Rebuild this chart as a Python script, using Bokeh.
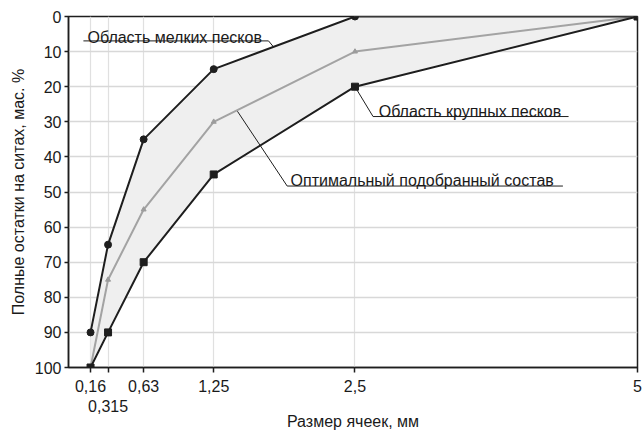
from bokeh.plotting import figure
from bokeh.models import Range1d, FixedTicker, Label
from bokeh.embed import file_html
from bokeh.resources import INLINE

# ---- data ----
sizes = [0.16, 0.315, 0.63, 1.25, 2.5, 5]
fine = [90, 65, 35, 15, 0, 0]          # Область мелких песков
coarse = [100, 90, 70, 45, 20, 0]      # Область крупных песков
optimal = [100, 75, 55, 30, 10, 0]     # Оптимальный подобранный состав
x_ticks = [0.16, 0.315, 0.63, 1.25, 2.5, 5]
x_tick_labels = ["0,16", "\n0,315", "0,63", "1,25", "2,5", "5"]
y_ticks = [0, 10, 20, 30, 40, 50, 60, 70, 80, 90, 100]

FONT = "Liberation Sans"
TXT = "#1a1a1a"
DARK = "#1e1e1e"

W, H = 643, 432
FL, FR, FT, FB = 68, 637, 16, 371
X0, X1 = -0.035, 5.0
Y0, Y1 = 100, 0

p = figure(width=W, height=H, output_backend="svg", toolbar_location=None,
           x_range=Range1d(X0, X1), y_range=Range1d(Y0, Y1),
           min_border_left=FL, min_border_right=W - FR,
           min_border_top=FT, min_border_bottom=H - FB)

p.background_fill_color = "white"
p.border_fill_color = "white"
p.outline_line_color = DARK
p.outline_line_width = 1.5

# axes
p.xaxis.ticker = FixedTicker(ticks=x_ticks)
p.xaxis.major_label_overrides = {t: l for t, l in zip(x_ticks, x_tick_labels)}
p.yaxis.ticker = FixedTicker(ticks=y_ticks)
for ax in (p.xaxis, p.yaxis):
    ax.axis_line_color = DARK
    ax.axis_line_width = 1.5
    ax.major_tick_line_color = DARK
    ax.major_tick_line_width = 1.5
    ax.major_tick_in = 0
    ax.minor_tick_line_color = None
    ax.major_label_text_font = FONT
    ax.major_label_text_font_size = "16px"
    ax.major_label_text_color = TXT
    ax.axis_label_text_font = FONT
    ax.axis_label_text_font_size = "16px"
    ax.axis_label_text_font_style = "normal"
    ax.axis_label_text_color = TXT
p.xaxis.major_tick_out = 5
p.xaxis.major_label_standoff = 5
p.yaxis.major_tick_out = 4
p.yaxis.major_label_standoff = 3
p.xaxis.axis_label = "Размер ячеек, мм"
p.yaxis.axis_label = "Полные остатки на ситах, мас. %"
p.xaxis.axis_label_standoff = -5
p.yaxis.axis_label_standoff = 5

# grid
p.xgrid.ticker = FixedTicker(ticks=x_ticks[:-1])
p.ygrid.ticker = FixedTicker(ticks=y_ticks)
p.xgrid.grid_line_color = "#e0e0e0"
p.xgrid.grid_line_width = 1.2
p.ygrid.grid_line_color = "#d8d8d8"
p.ygrid.grid_line_width = 1.6

# shaded area between fine and coarse
p.varea(x=sizes, y1=fine, y2=coarse, fill_color="#efefef", fill_alpha=1)

# optimal
p.line(sizes, optimal, line_color="#a3a3a3", line_width=2)
p.scatter(sizes, optimal, marker="triangle", size=5, fill_color="#9c9c9c", line_color="#9c9c9c")

# fine
p.line(sizes, fine, line_color=DARK, line_width=2)
p.scatter(sizes, fine, marker="circle", size=7, fill_color=DARK, line_color=DARK)

# coarse
p.line(sizes, coarse, line_color=DARK, line_width=2)
p.scatter(sizes, coarse, marker="square", size=7, fill_color=DARK, line_color=DARK)

# annotations (leader lines + texts)
LEAD = "#1e1e1e"
p.line([0.097, 1.735, 1.78], [6.95, 6.95, 8.7], line_color=LEAD, line_width=1)
p.line([2.5, 2.66, 4.39], [20, 28.5, 28.5], line_color=LEAD, line_width=1)
p.line([1.46, 1.90, 4.34], [27.0, 48.3, 48.3], line_color=LEAD, line_width=1)

def lab(x, y, text, **kw):
    p.add_layout(Label(x=x, y=y, text=text, text_font=FONT, text_font_size="16px",
                       text_color=TXT, text_baseline="alphabetic", **kw))

lab(0.133, 6.1, "Область мелких песков")
lab(2.71, 27.0, "Область крупных песков")
lab(1.93, 46.8, "Оптимальный подобранный состав")

open("out.html", "w").write(file_html(p, INLINE))
